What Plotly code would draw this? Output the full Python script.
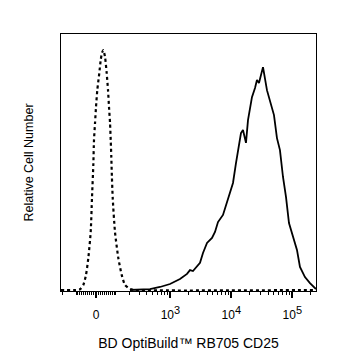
import numpy as np
import plotly.graph_objects as go

# Axis display units (biexponential-like: asinh(x / C) / ln(10))
C = 121.0
def disp(v):
    return np.arcsinh(np.asarray(v, dtype=float) / C) / np.log(10)

major_vals = [0, 1e3, 1e4, 1e5]
major_text = ["0",
              "10<sup><span style='font-size:11px'>3</span></sup>",
              "10<sup><span style='font-size:11px'>4</span></sup>",
              "10<sup><span style='font-size:11px'>5</span></sup>"]
minor_vals = ([-200, -100] + [-k for k in range(10, 100, 10)] + list(range(10, 100, 10))
              + list(range(100, 1000, 100)) + list(range(2000, 10000, 1000))
              + list(range(20000, 100000, 10000)) + [200000])

# Isotype control (dotted) — x in display units, y relative counts
iso_x = [-0.574, -0.328, -0.262, -0.208, -0.164, -0.126, -0.087, -0.066, -0.044, -0.033,
         -0.016, 0.0, 0.021, 0.054, 0.077, 0.098, 0.120, 0.148, 0.175, 0.197, 0.213,
         0.230, 0.241, 0.251, 0.257, 0.274, 0.311, 0.366, 0.421, 0.475, 0.557, 0.639, 3.607]
iso_y = [0, 0, 0.3, 2.1, 6.3, 13.3, 24.2, 38.3, 52.1, 62.5,
         69.6, 76.3, 83.3, 90.4, 95.8, 98.8, 100, 97.1, 90.4, 83.3, 76.3,
         69.6, 62.5, 55.4, 50, 38.3, 24.2, 13.3, 6.3, 2.1, 0.4, 0, 0]

# CD25 stained (solid)
cd25_x = [0.557, 0.721, 0.885, 1.049, 1.213, 1.377, 1.492, 1.541, 1.590, 1.705, 1.754,
          1.820, 1.902, 1.951, 2.000, 2.082, 2.148, 2.197, 2.246, 2.295, 2.328, 2.377,
          2.410, 2.459, 2.492, 2.557, 2.607, 2.639, 2.672, 2.738, 2.803, 2.869, 2.918,
          2.967, 3.016, 3.066, 3.115, 3.164, 3.230, 3.295, 3.344, 3.426, 3.508, 3.590, 3.607]
cd25_y = [0, 0.2, 0.4, 1.25, 2.5, 4.6, 6.7, 8.3, 7.9, 11.3, 15.4,
          19.6, 21.7, 24.2, 28.3, 31.3, 36.7, 40.4, 44.6, 52.9, 58.3, 65.4,
          66.7, 61.3, 70.8, 80.4, 84.2, 87.5, 86.3, 92.9, 83.3, 77.9, 72.9,
          63.3, 58.3, 47.1, 38.8, 27.9, 22.1, 16.7, 9.6, 5.4, 2.9, 0.8, 0.4]

fig = go.Figure()
fig.add_trace(go.Scatter(x=iso_x, y=iso_y, mode="lines",
                         line=dict(color="black", width=2.2, dash="dot", shape="spline", smoothing=0.6),
                         hoverinfo="skip", showlegend=False))
fig.add_trace(go.Scatter(x=cd25_x, y=cd25_y, mode="lines",
                         line=dict(color="black", width=1.8),
                         hoverinfo="skip", showlegend=False))

fig.update_layout(
    width=337, height=360,
    margin=dict(l=61, r=21, t=34, b=69),
    paper_bgcolor="white", plot_bgcolor="white",
    font=dict(family="Liberation Sans, Arial, sans-serif", color="black", size=12),
    xaxis=dict(
        range=[-0.574, 3.607], showgrid=False, zeroline=False,
        showline=True, linecolor="black", linewidth=1, mirror=True,
        tickmode="array", tickvals=list(disp(major_vals)), ticktext=major_text,
        ticks="outside", ticklen=6, tickwidth=2, tickcolor="black",
        tickfont=dict(size=12), ticklabelstandoff=7,
        minor=dict(tickmode="array", tickvals=list(disp(minor_vals)),
                   ticks="outside", ticklen=3, tickwidth=1, tickcolor="black"),
        title=dict(text="BD OptiBuild™ RB705 CD25", font=dict(size=14), standoff=16),
    ),
    yaxis=dict(
        range=[-0.42, 106.7], showgrid=False, zeroline=False,
        showline=True, linecolor="black", linewidth=1, mirror=True,
        showticklabels=False, ticks="",
        title=dict(text="Relative Cell Number", font=dict(size=12.5), standoff=23),
    ),
)

fig.write_html("out.html")
